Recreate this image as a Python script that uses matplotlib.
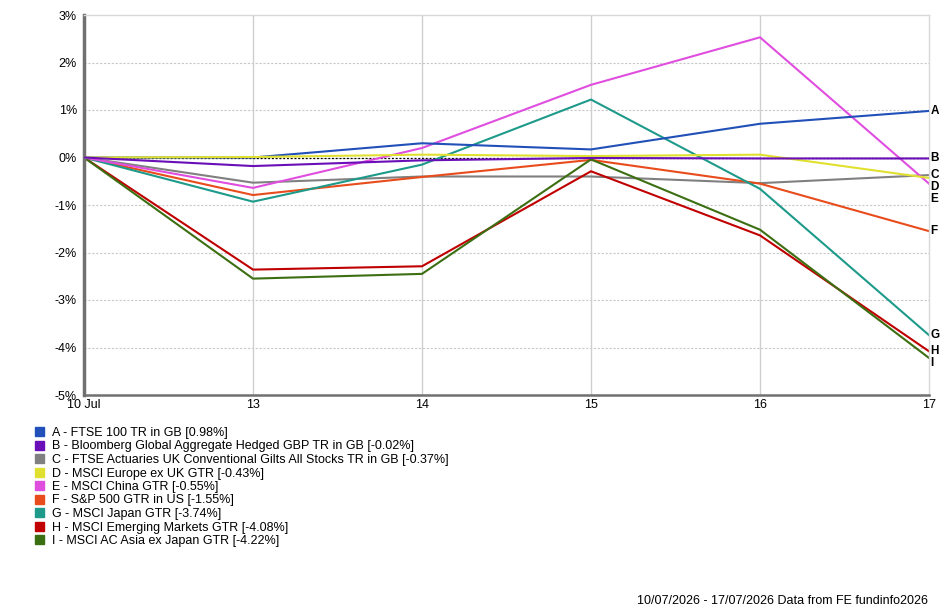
import matplotlib
matplotlib.use("Agg")
import matplotlib.pyplot as plt
from matplotlib.patches import Patch
import numpy as np

plt.rcParams['font.family'] = ['Liberation Sans', 'DejaVu Sans']

x_labels = ["10 Jul", "13", "14", "15", "16", "17"]
letters = ["A", "B", "C", "D", "E", "F", "G", "H", "I"]
names = [
    "A - FTSE 100 TR in GB [0.98%]",
    "B - Bloomberg Global Aggregate Hedged GBP TR in GB [-0.02%]",
    "C - FTSE Actuaries UK Conventional Gilts All Stocks TR in GB [-0.37%]",
    "D - MSCI Europe ex UK GTR [-0.43%]",
    "E - MSCI China GTR [-0.55%]",
    "F - S&P 500 GTR in US [-1.55%]",
    "G - MSCI Japan GTR [-3.74%]",
    "H - MSCI Emerging Markets GTR [-4.08%]",
    "I - MSCI AC Asia ex Japan GTR [-4.22%]",
]
colors = ["#2150b8", "#6a0fb8", "#808080", "#e0e030", "#e04ee0",
          "#e84c1c", "#1e9a8a", "#c00000", "#3c6e12"]

A = [0.00, 0.00, 0.30, 0.17, 0.71, 0.98]
B = [0.00, -0.18, -0.06, -0.01, -0.02, -0.02]
C = [0.00, -0.53, -0.40, -0.40, -0.54, -0.37]
D = [0.00, 0.01, 0.06, 0.03, 0.06, -0.43]
E = [0.00, -0.64, 0.20, 1.53, 2.53, -0.55]
F = [0.00, -0.79, -0.41, -0.05, -0.55, -1.55]
G = [0.00, -0.93, -0.15, 1.22, -0.66, -3.74]
H = [0.00, -2.36, -2.29, -0.29, -1.64, -4.08]
I = [0.00, -2.55, -2.45, -0.04, -1.52, -4.22]
series = [A, B, C, D, E, F, G, H, I]

W, Hh = 940, 610
fig = plt.figure(figsize=(W / 100, Hh / 100), dpi=100)
ax = fig.add_axes([84 / W, 1 - 395 / Hh, (929 - 84) / W, (395 - 15) / Hh])

xs = np.arange(len(x_labels))
ymin, ymax = -5, 3
ax.set_xlim(0, len(x_labels) - 1)
ax.set_ylim(ymin, ymax)

# grid
for yv in range(ymin + 1, ymax):
    ax.axhline(yv, color="#c8c8c8", lw=0.8, ls=(0, (2, 1.5)), zorder=0)
for xv in xs[1:-1]:
    ax.axvline(xv, color="#cfcfcf", lw=1.0, zorder=0)
ax.axhline(0, color="black", lw=0.9, ls=(0, (1.5, 1.5)), zorder=0.5)

order = [2, 5, 6, 7, 8, 4, 0, 3, 1]
for i in order:
    ax.plot(xs, series[i], color=colors[i], lw=1.5, zorder=2 + order.index(i) * 0.1,
            solid_joinstyle="miter")

# right labels with de-overlap
px_per_unit = (395 - 15) / (ymax - ymin)
gap = 12 / px_per_unit
finals = [s[-1] for s in series]
idx = sorted(range(len(finals)), key=lambda k: -finals[k])
pos = {}
prev = None
for k in idx:
    y = finals[k]
    if prev is not None and prev - y < gap:
        y = prev - gap
    pos[k] = y
    prev = y
for k in range(len(series)):
    ax.text(1.002, pos[k], letters[k], transform=ax.get_yaxis_transform(),
            ha="left", va="center", fontsize=8.5, fontweight="bold", clip_on=False)

ax.set_yticks(range(ymin, ymax + 1))
ax.set_yticklabels([f"{v}%" for v in range(ymin, ymax + 1)])
ax.set_xticks(xs)
ax.set_xticklabels(x_labels)
ax.tick_params(axis="both", labelsize=9, length=0, pad=3)
ax.tick_params(axis="y", pad=5)

for s in ["top", "right"]:
    ax.spines[s].set_color("#d8d8d8")
    ax.spines[s].set_linewidth(1.0)
ax.spines["left"].set_color("#707070")
ax.spines["left"].set_linewidth(2.5)
ax.spines["bottom"].set_color("#707070")
ax.spines["bottom"].set_linewidth(1.8)

handles = [Patch(facecolor=c, edgecolor=c) for c in colors]
fig.legend(handles, names, loc="upper left", bbox_to_anchor=(35 / W, 1 - 427 / Hh),
           frameon=False, fontsize=9, handlelength=0.75, handleheight=0.75,
           handletextpad=0.6, labelspacing=0.12, borderpad=0, borderaxespad=0)

fig.text(928 / W, 1 - 601 / Hh, "10/07/2026 - 17/07/2026 Data from FE fundinfo2026",
         ha="right", va="center", fontsize=9)

fig.savefig("out.png", dpi=100)
